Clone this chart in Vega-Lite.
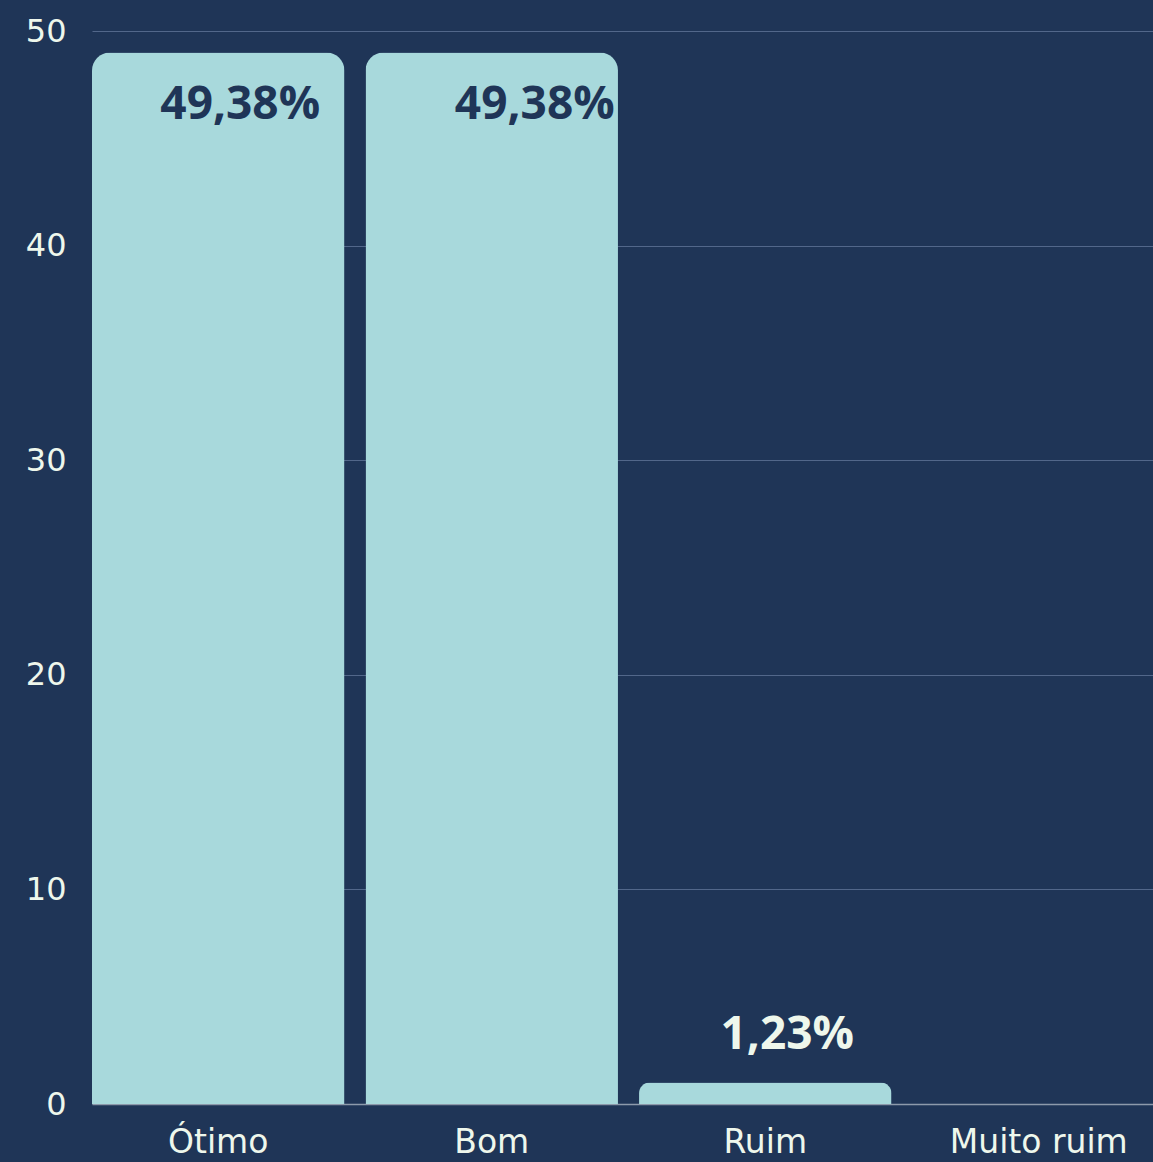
{
  "$schema": "https://vega.github.io/schema/vega-lite/v6.json",
  "autosize": {"type": "none"},
  "width": 1061,
  "height": 1073,
  "padding": {"left": 92, "top": 31, "right": 0, "bottom": 58},
  "background": "#1f3557",
  "config": {
    "view": {"stroke": null},
    "axis": {"labelFont": "DejaVu Sans", "labelColor": "#eef7ec", "labelFontSize": 32, "ticks": false, "title": null}
  },
  "data": {
    "values": [
      {"categoria": "Ótimo", "valor": 49, "rotulo": "49,38%"},
      {"categoria": "Bom", "valor": 49, "rotulo": "49,38%"},
      {"categoria": "Ruim", "valor": 1, "rotulo": "1,23%"},
      {"categoria": "Muito ruim", "valor": 0, "rotulo": ""}
    ]
  },
  "encoding": {
    "x": {
      "field": "categoria",
      "type": "nominal",
      "sort": ["Ótimo", "Bom", "Ruim", "Muito ruim"],
      "scale": {"range": [0, 1073], "paddingInner": 0.077, "paddingOuter": 0},
      "axis": {"labelAngle": 0, "labelPadding": 22, "labelFontSize": 33, "domain": true, "domainColor": "#8d9aab", "domainWidth": 1.5, "grid": false}
    },
    "y": {
      "field": "valor",
      "type": "quantitative",
      "scale": {"domain": [0, 50], "nice": false},
      "axis": {"values": [0, 10, 20, 30, 40, 50], "domain": false, "grid": true, "gridColor": "#52678a", "gridWidth": 1, "labelPadding": 26}
    }
  },
  "layer": [
    {
      "mark": {"type": "bar", "color": "#a8d9dc", "cornerRadiusTopLeft": 18, "cornerRadiusTopRight": 18, "clip": false}
    },
    {
      "transform": [{"filter": "datum.categoria === 'Ótimo'"}],
      "mark": {"type": "text", "font": "Open Sans", "fontWeight": "bold", "fontSize": 46, "color": "#1f3557", "align": "center", "baseline": "alphabetic", "dx": 22, "dy": 67},
      "encoding": {"text": {"field": "rotulo"}}
    },
    {
      "transform": [{"filter": "datum.categoria === 'Bom'"}],
      "mark": {"type": "text", "font": "Open Sans", "fontWeight": "bold", "fontSize": 46, "color": "#1f3557", "align": "center", "baseline": "alphabetic", "dx": 43, "dy": 67},
      "encoding": {"text": {"field": "rotulo"}}
    },
    {
      "transform": [{"filter": "datum.categoria === 'Ruim'"}],
      "mark": {"type": "text", "font": "Open Sans", "fontWeight": "bold", "fontSize": 46, "color": "#eef7ec", "align": "center", "baseline": "alphabetic", "dx": 22, "dy": -34},
      "encoding": {"text": {"field": "rotulo"}}
    }
  ]
}
